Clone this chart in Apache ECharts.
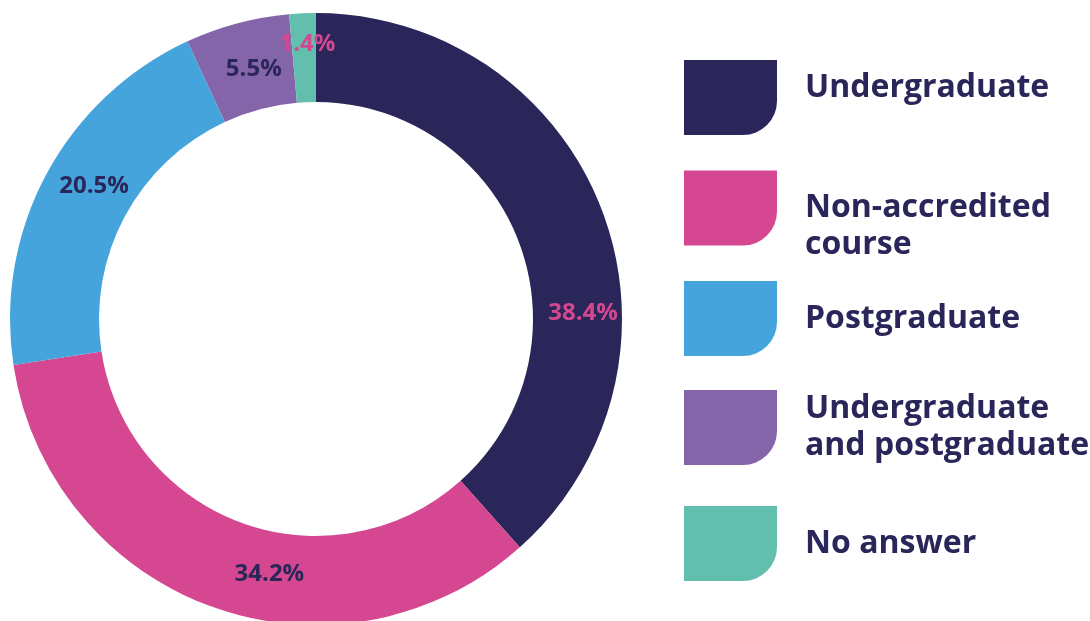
<!DOCTYPE html>
<html>
<head>
<meta charset="utf-8">
<script src="https://cdn.jsdelivr.net/npm/echarts@6/dist/echarts.min.js"></script>
<style>
  html, body { margin: 0; padding: 0; background: #fff; }
  #chart { width: 1090px; height: 621px; }
</style>
</head>
<body>
<div id="chart"></div>
<script>
// categories and values (percent)
const categories = ['Undergraduate', 'Non-accredited course', 'Postgraduate', 'Undergraduate and postgraduate', 'No answer'];
const legendLines = [['Undergraduate'], ['Non-accredited', 'course'], ['Postgraduate'], ['Undergraduate', 'and postgraduate'], ['No answer']];
const values = [38.4, 34.2, 20.5, 5.5, 1.4];

const colors = ['#2a2659', '#d54891', '#45a4dc', '#8565a9', '#62bfad'];
const labelColors = ['#d54891', '#2a2659', '#2a2659', '#2a2659', '#d54891'];
// small nudges of the value labels
const labelShift = [[20, 88], [43, 6], [11, -8], [6, 6], [3, -11]];
// legend rows (top of each swatch), blank space above / below the text
const legendTops = [60, 167, 281, 390, 506];
const spaceAbove = [0, 36, 0, 0, 0];
const spaceBelow = [20, 0, 0, 0, 0];

const navy = '#2a2659';
const iconPath = 'path://M0,0H93V41A34,34 0 0 1 59,75H0Z';

function legendText (i) {
  let parts = legendLines[i].map(s => '{t|' + s + '}');
  if (spaceAbove[i]) parts.unshift('{a| }');
  if (spaceBelow[i]) parts.push('{b| }');
  return parts.join('\n');
}

let myChart = echarts.init(document.getElementById('chart'));
let option = {
  animation: false,
  color: colors,
  legend: categories.map((name, i) => ({
    orient: 'vertical',
    left: 684,
    top: legendTops[i],
    padding: 0,
    itemWidth: 93,
    itemHeight: 75,
    icon: iconPath,
    selectedMode: false,
    data: [name],
    formatter: function () {
      return legendText(i);
    },
    textStyle: {
      color: navy,
      fontFamily: 'Open Sans',
      fontWeight: 'bold',
      fontSize: 32,
      padding: [0, 0, 0, 23],
      rich: {
        t: { color: navy, fontFamily: 'Open Sans', fontWeight: 'bold', fontSize: 32, lineHeight: 37 },
        a: { fontSize: 8, lineHeight: spaceAbove[i] || 1 },
        b: { fontSize: 8, lineHeight: spaceBelow[i] || 1 }
      }
    }
  })),
  series: [{
    type: 'pie',
    center: [316, 319],
    radius: [217, 306],
    startAngle: 90,
    clockwise: true,
    avoidLabelOverlap: false,
    label: {
      show: true,
      position: 'inside',
      fontFamily: 'Open Sans',
      fontWeight: 'bold',
      fontSize: 24,
      formatter: function (p) {
        return p.value.toFixed(1) + '%';
      }
    },
    labelLine: { show: false },
    emphasis: { disabled: true },
    labelLayout: function (params) {
      let s = labelShift[params.dataIndex];
      return { dx: s[0], dy: s[1] };
    },
    data: categories.map((name, i) => ({
      name: name,
      value: values[i],
      label: { color: labelColors[i] }
    }))
  }]
};
myChart.setOption(option);
</script>
</body>
</html>
